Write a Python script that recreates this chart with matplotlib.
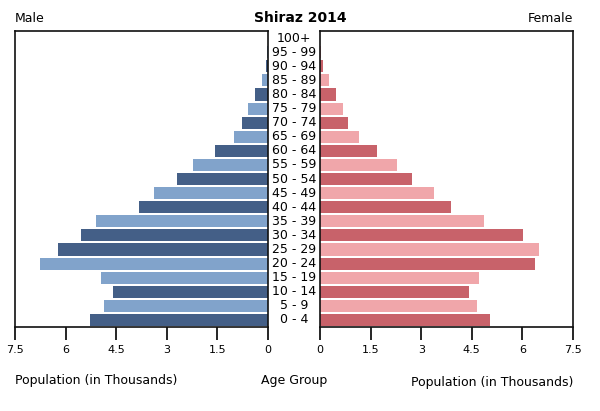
import matplotlib
matplotlib.use("Agg")
import matplotlib.pyplot as plt
from matplotlib.transforms import blended_transform_factory

age_groups = ["0 - 4", "5 - 9", "10 - 14", "15 - 19", "20 - 24", "25 - 29",
              "30 - 34", "35 - 39", "40 - 44", "45 - 49", "50 - 54", "55 - 59",
              "60 - 64", "65 - 69", "70 - 74", "75 - 79", "80 - 84", "85 - 89",
              "90 - 94", "95 - 99", "100+"]
male = [5.28, 4.86, 4.60, 4.95, 6.77, 6.23, 5.54, 5.09, 3.83, 3.39, 2.69,
        2.23, 1.57, 1.00, 0.76, 0.58, 0.39, 0.17, 0.06, 0.02, 0.01]
female = [5.04, 4.65, 4.41, 4.71, 6.37, 6.50, 6.02, 4.85, 3.89, 3.37, 2.74,
          2.27, 1.68, 1.15, 0.84, 0.67, 0.48, 0.26, 0.09, 0.02, 0.01]
# d = dark shade, l = light shade
male_shade = "dldlldd" + "ldldldldldldld"
female_shade = "dldldldldldldldldldld"
ticks = [0, 1.5, 3, 4.5, 6, 7.5]
tick_labels = ["0", "1.5", "3", "4.5", "6", "7.5"]

male_cols = {"d": "#445f87", "l": "#81a3cb"}
female_cols = {"d": "#c8626a", "l": "#f0a6aa"}

fig = plt.figure(figsize=(6, 4.11), dpi=100)
axL = fig.add_axes([0.025, 0.2044, 0.4217, 0.720])
axR = fig.add_axes([0.5333, 0.2044, 0.4217, 0.720])

y = list(range(len(age_groups)))
axL.barh(y, male, height=0.86, color=[male_cols[c] for c in male_shade])
axR.barh(y, female, height=0.86, color=[female_cols[c] for c in female_shade])

for ax in (axL, axR):
    ax.set_xlim(0, 7.5)
    ax.set_ylim(-0.5, len(age_groups) - 0.5)
    ax.set_yticks([])
    ax.set_xticks(ticks)
    ax.set_xticklabels(tick_labels, fontsize=8)
    ax.tick_params(axis="x", direction="out", length=9, width=1.2, pad=4)
    for s in ax.spines.values():
        s.set_linewidth(1.2)
        s.set_color("#111111")
axL.invert_xaxis()

tr = blended_transform_factory(fig.transFigure, axL.transData)
for i, lab in enumerate(age_groups):
    fig.text(0.49, i, lab, transform=tr, ha="center", va="center", fontsize=9)

fig.text(0.025, 0.955, "Male", ha="left", va="center", fontsize=9)
fig.text(0.955, 0.955, "Female", ha="right", va="center", fontsize=9)
fig.text(0.5, 0.955, "Shiraz 2014", ha="center", va="center", fontsize=10,
         fontweight="bold")
fig.text(0.025, 0.075, "Population (in Thousands)", ha="left", va="center", fontsize=9)
fig.text(0.49, 0.075, "Age Group", ha="center", va="center", fontsize=9)
fig.text(0.955, 0.07, "Population (in Thousands)", ha="right", va="center", fontsize=9)

fig.savefig("out.png", dpi=100)
